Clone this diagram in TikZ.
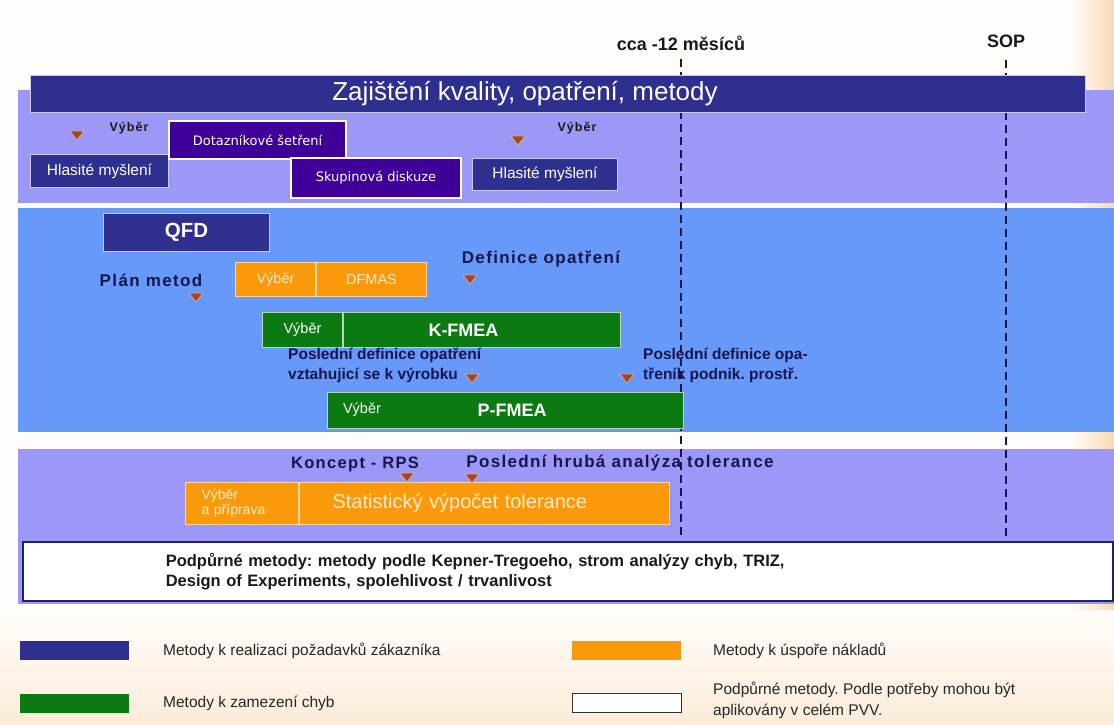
\documentclass[tikz,border=0pt]{standalone}
\usepackage{fontspec}
\setmainfont{Liberation Sans}
\newfontfamily\boxfont{DejaVu Sans}
\newfontfamily\spacedfont[LetterSpace=8]{Liberation Sans}
\usetikzlibrary{positioning}
\definecolor{titleblue}{HTML}{2F2F8F}
\definecolor{bandpurple}{HTML}{9C98F8}
\definecolor{bandblue}{HTML}{6699FA}
\definecolor{boxindigo}{HTML}{3F0099}
\definecolor{costorange}{HTML}{FA9A0A}
\definecolor{errgreen}{HTML}{0C7A12}
\definecolor{labelnavy}{HTML}{16164C}
\definecolor{markbrown}{HTML}{A5471C}
\definecolor{paper}{HTML}{FFFDFA}
\definecolor{glow}{HTML}{F9D9B4}
\frenchspacing

\begin{document}
\begin{tikzpicture}[
    x=1pt, y=-1pt,
    box/.style={rectangle, draw=white, line width=1pt, text=white, inner sep=0pt, anchor=north west},
    custbox/.style={box, fill=titleblue, draw=white!75!titleblue, font=\fontsize{15.5}{17}\selectfont},
    askbox/.style={box, fill=boxindigo, line width=2pt, font=\boxfont\fontsize{13}{15}\selectfont},
    costbox/.style={box, fill=costorange, draw=white!60!costorange, text=white!80!costorange, font=\fontsize{14.5}{16}\selectfont},
    errbox/.style={box, fill=errgreen, draw=white!70!errgreen, font=\fontsize{14.5}{16}\selectfont},
    stage/.style={text=labelnavy, font=\bfseries\fontsize{15.5}{20}\selectfont, inner sep=0pt},
    spaced/.style={text=labelnavy, font=\spacedfont\bfseries\fontsize{17}{20}\selectfont, inner sep=0pt},
    sellabel/.style={text=black!90, font=\spacedfont\bfseries\fontsize{12.5}{14}\selectfont, inner sep=0pt},
    milestone/.style={dash pattern=on 8pt off 5pt, line width=1.5pt, labelnavy},
    legendbox/.style={rectangle, inner sep=0pt, minimum width=109pt, minimum height=19pt, anchor=north west},
    legendtext/.style={anchor=west, align=left, text=black!85, font=\fontsize{15.5}{21}\selectfont, inner sep=0pt},
    droptri/.pic={\fill[markbrown, draw=white!55!markbrown, line width=0.7pt] (-7,-4) -- (7,-4) -- (0,5) -- cycle;}
]
\fill[paper] (0,0) rectangle (1114,724);
\shade[left color=paper, right color=glow] (1070,0) rectangle (1114,724);
\shade[top color=paper, bottom color=glow!50] (0,610) rectangle (1114,724);

\fill[bandpurple] (18,90) rectangle (1114,203);
\fill[bandblue] (18,208) rectangle (1114,432);
\fill[bandpurple] (18,449) rectangle (1114,604);

\node[stage, text=black!90, font=\bfseries\fontsize{18}{20}\selectfont] (cca) at (681,43) {cca -12 měsíců};
\node[stage, text=black!90, font=\bfseries\fontsize{18}{20}\selectfont] (sop) at (1006,41) {SOP};
\coordinate (ccaend) at (681,537);
\coordinate (sopend) at (1006,537);
\draw[milestone] ([yshift=-8pt]cca.south) -- (ccaend);
\draw[milestone] ([yshift=-12pt]sop.south) -- (sopend);

\node[box, fill=titleblue, draw=white!75!titleblue, minimum width=1055pt, minimum height=37pt] (title) at (30,75) {};
\node[text=white, font=\fontsize{26}{30}\selectfont] (titletext) at (525,94) {Zajištění kvality, opatření, metody};

\pic at (77,135) {droptri};
\node[sellabel] (vyber1) at (129,128) {Výběr};
\node[custbox, minimum width=138pt, minimum height=33pt] (think1) at (30,154) {Hlasité myšlení};
\node[askbox, minimum width=177pt, minimum height=38pt] (survey) at (168,120) {Dotazníkové šetření};
\node[askbox, minimum width=170pt, minimum height=40pt] (group) at (290,157) {Skupinová diskuze};
\pic at (518,140) {droptri};
\node[sellabel] (vyber2) at (577,128) {Výběr};
\node[custbox, minimum width=145pt, minimum height=32pt] (think2) at (472,158) {Hlasité myšlení};

\node[custbox, minimum width=166pt, minimum height=38pt, font=\bfseries\fontsize{20.5}{23}\selectfont] (qfd) at (103,213) {QFD};
\node[spaced] (plan) at (151,280) {Plán metod};
\pic at (196,297) {droptri};
\node[costbox, minimum width=80pt, minimum height=34pt] (dvyber) at (235,262) {Výběr};
\node[costbox, minimum width=110pt, minimum height=34pt, right=0pt of dvyber] (dfmas) {DFMAS};
\node[spaced] (defin) at (541,259) {Definice opatření};
\pic at (470,279) {droptri};
\node[errbox, minimum width=80pt, minimum height=35pt] (kvyber) at (262,312) {Výběr};
\node[errbox, minimum width=277pt, minimum height=35pt, text width=107pt, align=left, right=0pt of kvyber, font=\bfseries\fontsize{18}{20}\selectfont] (kfmea) {K-FMEA};
\node[stage, anchor=north west, align=left] (lastprod) at (288,348) {Poslední definice opatření\\vztahujicí se k výrobku};
\pic at (472,378) {droptri};
\pic at (627,378) {droptri};
\node[stage, anchor=north west, align=left] (lastproc) at (643,348) {Poslední definice opa-\\třeník podnik. prostř.};
\node[errbox, minimum width=356pt, minimum height=36pt] (pfmea) at (327,392) {};
\node[text=white, font=\fontsize{14.5}{16}\selectfont] (pvyber) at (362,410) {Výběr};
\node[text=white, font=\bfseries\fontsize{18}{20}\selectfont] (pname) at (512,410) {P-FMEA};

\node[spaced, font=\spacedfont\bfseries\fontsize{16.5}{20}\selectfont] (rps) at (355,464) {Koncept - RPS};
\pic at (407,477) {droptri};
\node[spaced] (rough) at (620,463) {Poslední hrubá analýza tolerance};
\pic at (472,478) {droptri};
\node[costbox, minimum width=113pt, minimum height=42pt, text width=81pt, align=left, font=\fontsize{14}{15}\selectfont] (prep) at (185,482) {Výběr\\a příprava};
\node[costbox, minimum width=370pt, minimum height=42pt, text width=304pt, align=left, right=0pt of prep, font=\fontsize{20}{23}\selectfont] (stat) {Statistický výpočet tolerance};

\node[rectangle, anchor=north west, draw=titleblue!70!black, line width=1.5pt, fill=white, minimum width=1090pt, minimum height=59pt, text width=804pt, align=left, inner sep=0pt, text=black!90, font=\bfseries\fontsize{16.5}{20}\selectfont] (support) at (22,541) {Podpůrné metody: metody podle Kepner-Tregoeho, strom analýzy chyb, TRIZ,\\Design of Experiments, spolehlivost / trvanlivost};

\node[legendbox, fill=titleblue] (legcust) at (20,641) {};
\node[legendtext] (legcusttext) at (163,651) {Metody k realizaci požadavků zákazníka};
\node[legendbox, fill=errgreen] (legerr) at (20,694) {};
\node[legendtext] (legerrtext) at (163,703) {Metody k zamezení chyb};
\node[legendbox, fill=costorange] (legcost) at (572,641) {};
\node[legendtext] (legcosttext) at (713,651) {Metody k úspoře nákladů};
\node[legendbox, fill=white, draw=black!80, line width=1pt] (legsup) at (572,693) {};
\node[legendtext] (legsuptext) at (713,700) {Podpůrné metody. Podle potřeby mohou být\\aplikovány v celém PVV.};
\end{tikzpicture}
\end{document}
